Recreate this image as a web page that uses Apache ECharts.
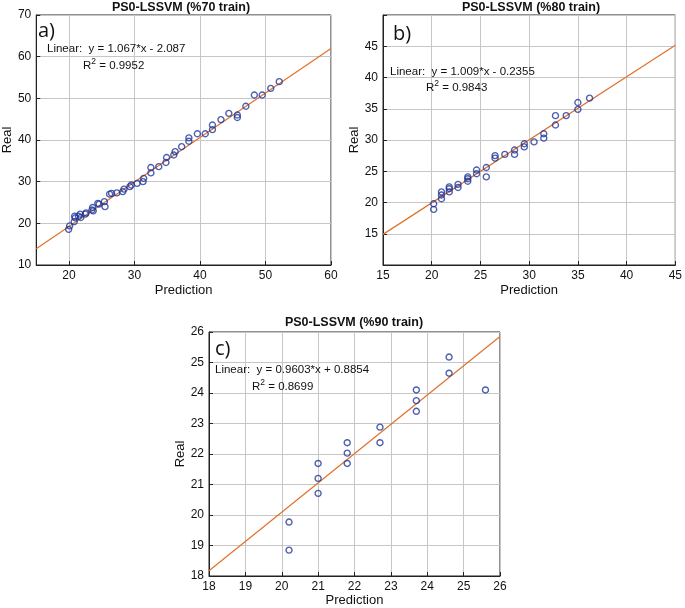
<!DOCTYPE html>
<html>
<head>
<meta charset="utf-8">
<script src="https://cdn.jsdelivr.net/npm/echarts@6/dist/echarts.min.js"></script>
<style>
html,body{margin:0;padding:0;background:#fff;}
#chart{width:685px;height:608px;}
</style>
</head>
<body>
<div id="chart"></div>
<script>
// ---------- data ----------
const panelTitles = ['PS0-LSSVM (%70 train)', 'PS0-LSSVM (%80 train)', 'PS0-LSSVM (%90 train)'];
const panelTags = ['a)', 'b)', 'c)'];
const fitSlope = [1.067, 1.009, 0.9603];
const fitIntercept = [-2.087, -0.2355, 0.8854];
const fitR2 = ['0.9952', '0.9843', '0.8699'];

const predA = [19.95,20.1,20.8,20.96,20.85,21.45,21.7,21.8,22.5,22.6,23.5,23.6,23.7,24.4,24.6,25.4,25.5,26.2,26.5,27.3,28.2,28.4,29.3,29.5,30.4,31.3,31.4,32.5,32.5,33.7,34.8,34.9,36.0,36.2,37.2,38.3,38.3,39.6,40.8,41.9,41.9,43.2,44.4,45.7,45.7,47.0,48.3,49.5,50.8,52.1];
const realA = [18.56,19.4,20.4,21.3,21.7,21.7,22.2,21.4,22.2,22.5,23.2,23.8,23.0,24.8,24.6,25.2,24.0,27.0,27.2,27.3,27.6,28.2,28.8,29.2,29.6,30.0,30.8,33.4,32.1,33.6,34.6,35.8,36.4,37.2,38.4,39.7,40.5,41.5,41.5,42.5,43.6,44.9,46.4,46.0,45.4,48.1,50.8,50.8,52.4,54.0];

const predB = [20.2,20.2,21.0,21.0,21.0,21.8,21.8,21.8,22.7,22.7,23.7,23.7,23.7,24.6,24.6,25.6,25.6,26.5,26.5,27.5,28.5,28.5,29.5,29.5,30.5,31.5,31.5,32.7,32.7,33.8,35.0,35.0,36.2];
const realB = [18.9,19.8,20.6,21.2,21.7,21.7,22.2,22.5,22.4,22.9,23.4,23.8,24.1,24.6,25.2,25.6,24.1,27.1,27.5,27.7,27.7,28.4,28.9,29.4,29.7,30.3,31.0,32.4,33.9,33.9,34.9,36.0,36.7];

const predC = [20.2,20.2,21.0,21.0,21.0,21.8,21.8,21.8,22.7,22.7,23.7,23.7,23.7,24.6,24.6,25.6];
const realC = [18.85,19.77,20.71,21.2,21.69,21.69,22.03,22.37,22.37,22.88,23.4,23.75,24.1,24.65,25.18,24.1];

const xTicksA = [20,30,40,50,60];
const xTicksB = [15,20,25,30,35,40,45];
const yTicksB = [15,20,25,30,35,40,45];
const ticksC = [18,19,20,21,22,23,24,25,26];

// ---------- layout/styles ----------
const grids = [
  {left:32, top:15, width:299, height:250},
  {left:383, top:15, width:296, height:250},
  {left:209, top:332, width:291, height:244}
];
const xRanges = [[15,60],[15,45],[18,26]];
const markerColor = '#1f3799';
const lineColor = '#e2702c';
const gridColor = '#c6c6c6';
const FONT = 'Liberation Sans';

function axisCommon(){
  return {
    axisLine:{show:true, onZero:false, lineStyle:{color:'#222', width:1}},
    axisTick:{show:true, inside:true, length:4, lineStyle:{color:'#222'}},
    splitLine:{show:true, lineStyle:{color:gridColor, width:1}},
    axisLabel:{color:'#111', fontFamily:FONT, fontSize:12, margin:5},
    nameLocation:'middle',
    nameTextStyle:{color:'#111', fontFamily:FONT, fontSize:13}
  };
}

const xAxes = [
  Object.assign(axisCommon(), {gridIndex:0, type:'value', min:15, max:60, name:'Prediction', nameGap:19,
    axisTick:{show:true, inside:true, length:4, lineStyle:{color:'#222'}, customValues:xTicksA},
    axisLabel:{color:'#111', fontFamily:FONT, fontSize:12, margin:5, customValues:xTicksA}}),
  Object.assign(axisCommon(), {gridIndex:1, type:'value', min:15, max:45, interval:5, name:'Prediction', nameGap:19}),
  Object.assign(axisCommon(), {gridIndex:2, type:'value', min:18, max:26, interval:1, name:'Prediction', nameGap:18})
];
const yAxes = [
  Object.assign(axisCommon(), {gridIndex:0, type:'value', min:10, max:70, interval:10, name:'Real', nameGap:19}),
  Object.assign(axisCommon(), {gridIndex:1, type:'value', min:10, max:50, interval:5, name:'Real', nameGap:20}),
  Object.assign(axisCommon(), {gridIndex:2, type:'value', min:18, max:26, interval:1, name:'Real', nameGap:20})
];
yAxes[1].axisLabel.formatter = v => (yTicksB.indexOf(v) >= 0 ? String(v) : '');
xAxes[1].axisLabel.formatter = v => (xTicksB.indexOf(v) >= 0 ? String(v) : '');
xAxes[2].axisLabel.formatter = v => (ticksC.indexOf(v) >= 0 ? String(v) : '');
yAxes[2].axisLabel.formatter = v => (ticksC.indexOf(v) >= 0 ? String(v) : '');

const preds = [predA, predB, predC];
const reals = [realA, realB, realC];

const series = [];
for (let i = 0; i < 3; i++) {
  const [x0, x1] = xRanges[i];
  series.push({
    type:'line', xAxisIndex:i, yAxisIndex:i, symbol:'none', silent:true,
    lineStyle:{color:lineColor, width:1.2},
    data:[[x0, fitSlope[i]*x0 + fitIntercept[i]], [x1, fitSlope[i]*x1 + fitIntercept[i]]],
    z:2
  });
  series.push({
    type:'scatter', xAxisIndex:i, yAxisIndex:i, symbol:'circle', symbolSize:6,
    itemStyle:{color:'rgba(0,0,0,0)', borderColor:markerColor, borderWidth:1.4},
    data:preds[i].map((p, k) => [p, reals[i][k]]),
    z:3
  });
}

function eqText(i){
  const b = fitIntercept[i];
  return 'Linear:  y = ' + fitSlope[i] + '*x ' + (b < 0 ? '- ' : '+ ') + Math.abs(b);
}

const textPos = [
  {title:[181,8], tag:[38,31], eq:[47,49], r2:[83,66]},
  {title:[531,8], tag:[393,34], eq:[390,72], r2:[426,88]},
  {title:[354,323], tag:[215,349], eq:[215,370], r2:[252,387]}
];
const graphics = [];
for (let i = 0; i < 3; i++) {
  const t = textPos[i];
  graphics.push({type:'text', x:t.title[0], y:t.title[1], z:10,
    style:{text:panelTitles[i], font:'bold 12.5px "'+FONT+'"', fill:'#111', textAlign:'center', textVerticalAlign:'middle'}});
  graphics.push({type:'text', x:t.tag[0], y:t.tag[1], z:10,
    style:{text:panelTags[i], font:'20px "Open Sans"', fill:'#111', textAlign:'left', textVerticalAlign:'middle'}});
  graphics.push({type:'text', x:t.eq[0], y:t.eq[1], z:10,
    style:{text:eqText(i), font:'11.5px "'+FONT+'"', fill:'#111', textAlign:'left', textVerticalAlign:'middle'}});
  graphics.push({type:'text', x:t.r2[0], y:t.r2[1], z:10,
    style:{text:'{n|R}{s|2}{n| = ' + fitR2[i] + '}', textAlign:'left', textVerticalAlign:'middle',
      rich:{
        n:{fontFamily:FONT, fontSize:11.5, fill:'#111', color:'#111'},
        s:{fontFamily:FONT, fontSize:8.5, fill:'#111', color:'#111', padding:[0,0,9,0]}
      }}});
}

const chart = echarts.init(document.getElementById('chart'), null, {renderer:'canvas'});
chart.setOption({
  backgroundColor:'#fff',
  animation:false,
  grid: grids.map(g => Object.assign({show:true, borderColor:'#222', borderWidth:1, backgroundColor:'#fff'}, g)),
  xAxis:xAxes,
  yAxis:yAxes,
  series:series,
  graphic:graphics
});
</script>
</body>
</html>
